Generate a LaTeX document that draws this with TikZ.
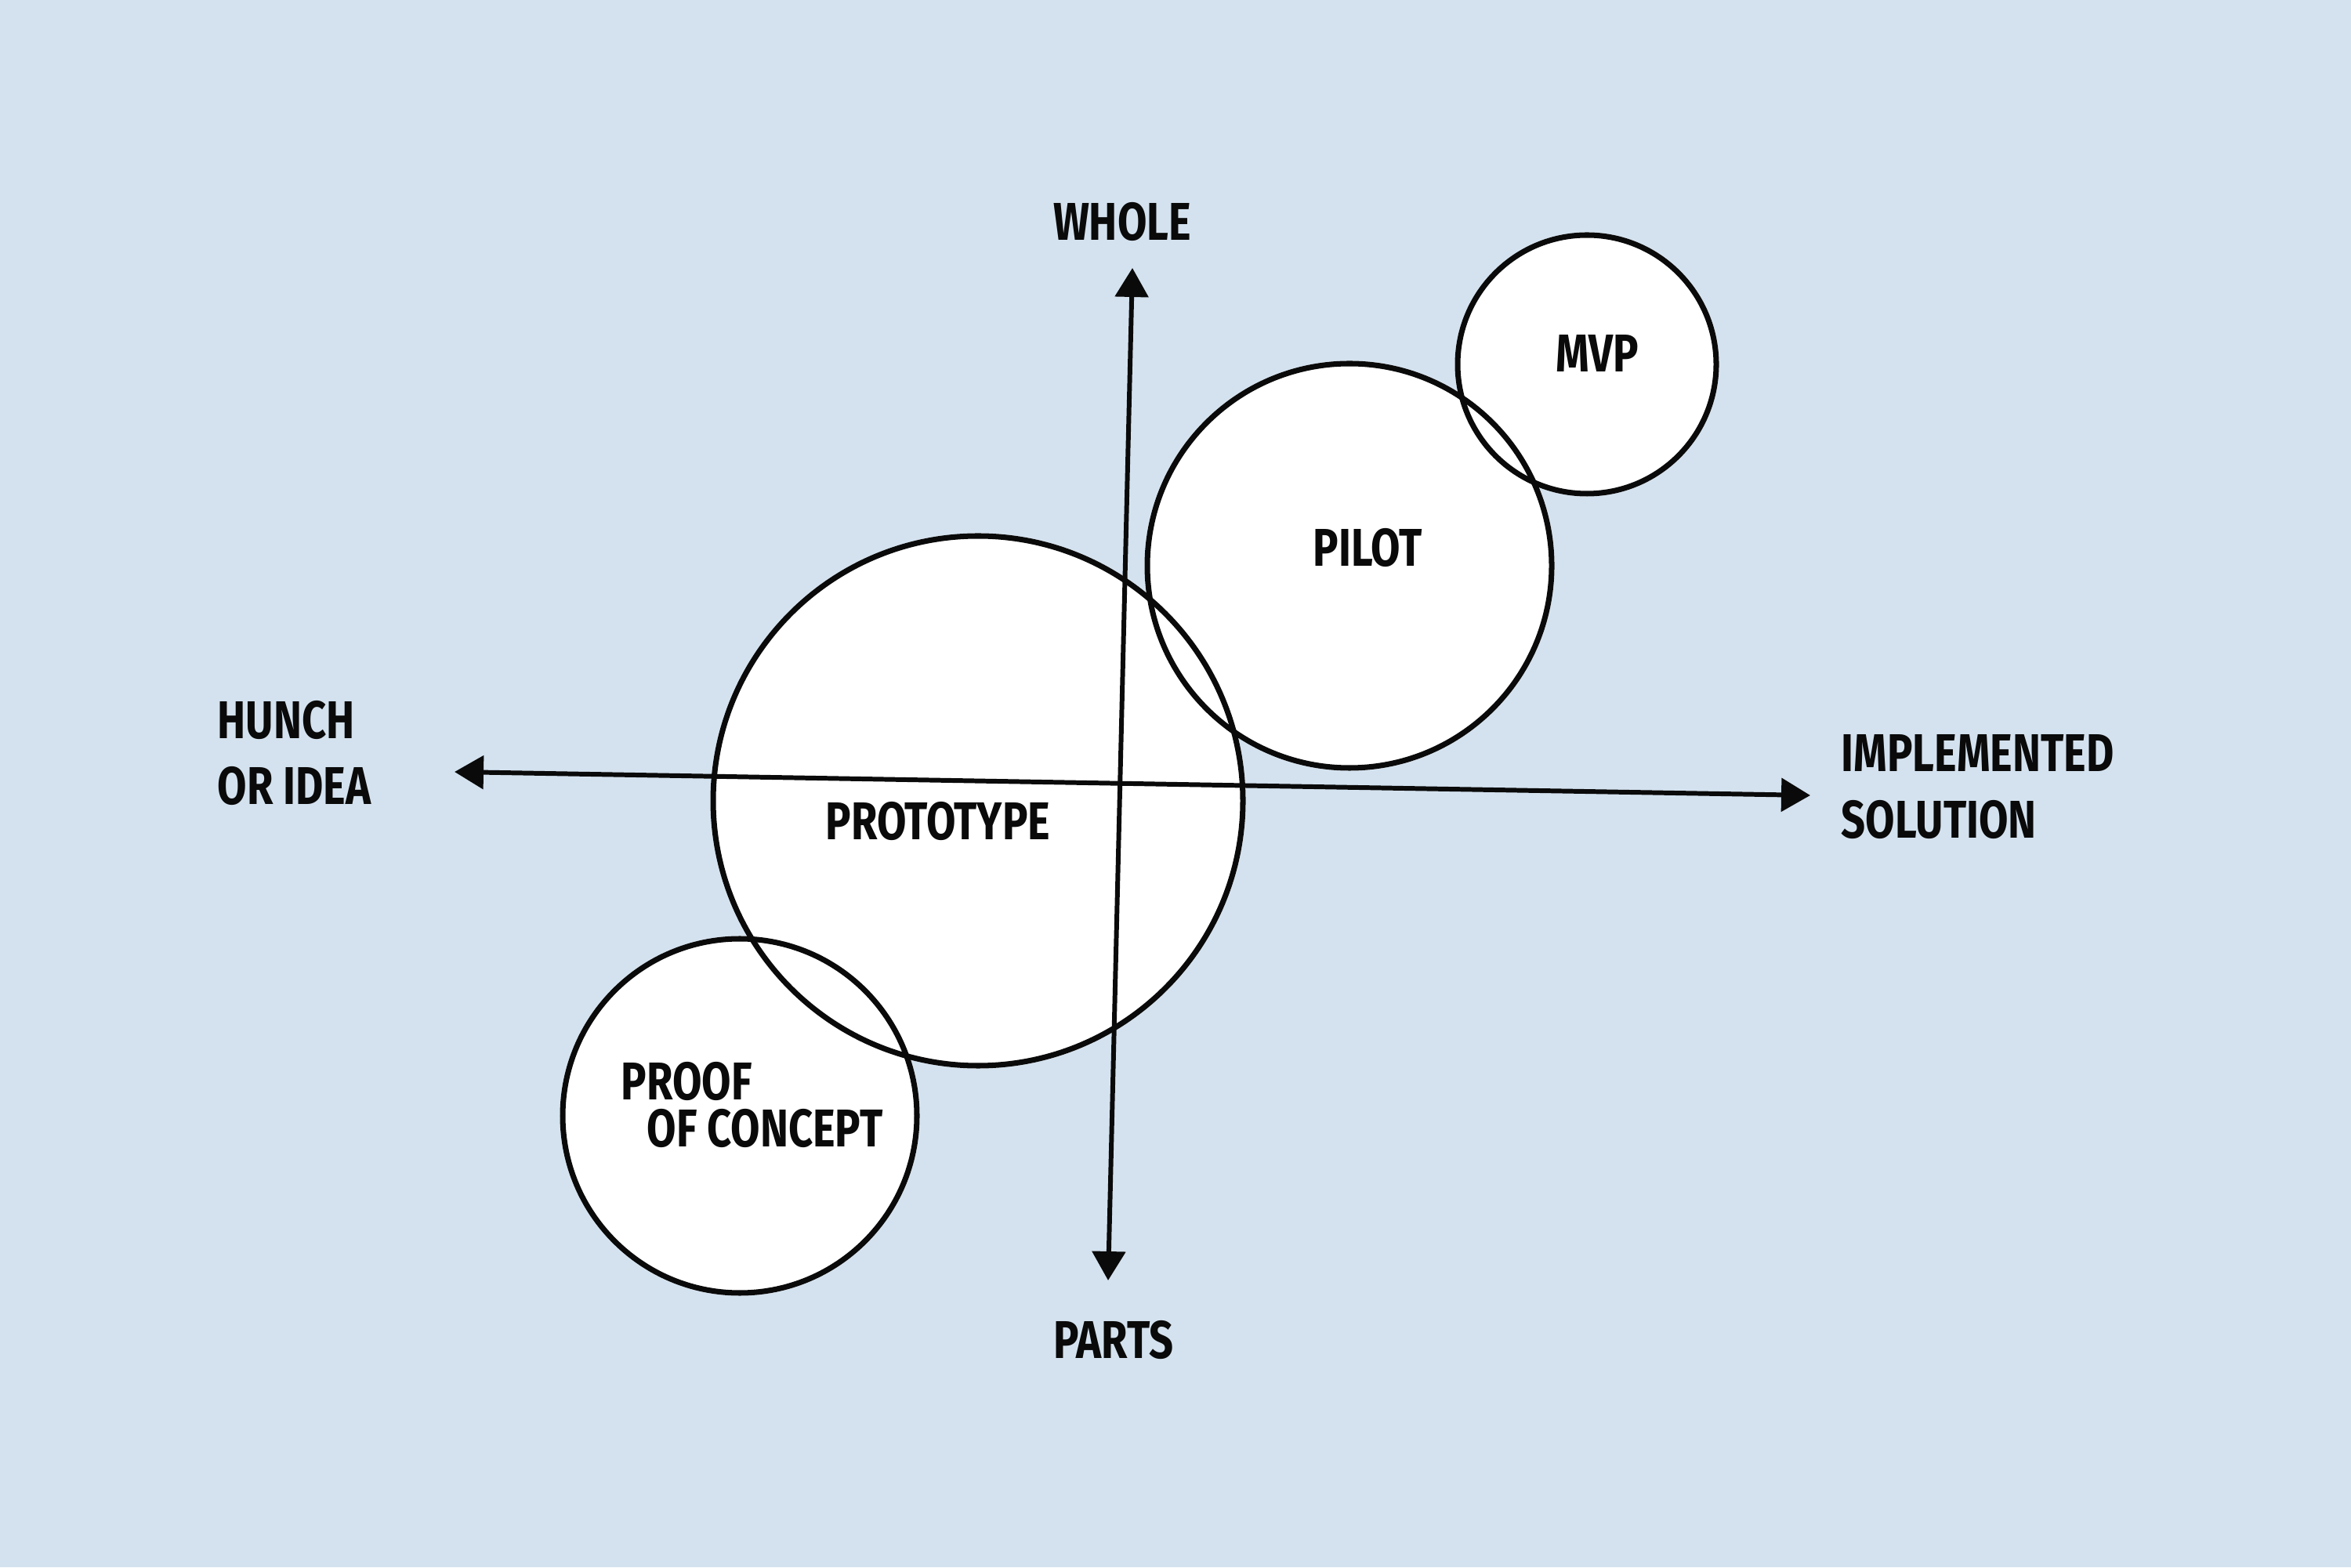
\documentclass[tikz,border=0pt]{standalone}
\usepackage{fontspec}
\setmainfont{Fira Sans}[FakeStretch=0.8]
\usepackage{tikz}
\usetikzlibrary{arrows.meta,backgrounds,calc}
\definecolor{paper}{HTML}{D4E2EF}
\definecolor{ink}{HTML}{0A0A0A}

\begin{document}
\begin{tikzpicture}[font=\bfseries\fontsize{19.3}{24}\selectfont,
  >={Triangle[length=3.7mm,width=4.2mm]},
  bubble/.style={circle, draw=ink, line width=2pt, inner sep=0pt},
  ax/.style={<->, line width=1.7pt, draw=ink},
  tag/.style={inner sep=0pt, text=ink, align=left}]
  \useasboundingbox (0,0) rectangle (30,20);
  % the four stages
  \node[bubble, minimum size=6.76cm] (proto) at (12.48,9.78) {};
  \node[bubble, minimum size=5.16cm] (pilot) at (17.22,12.78) {};
  \node[bubble, minimum size=3.30cm] (mvp)   at (20.25,15.35) {};
  \node[bubble, minimum size=4.52cm] (poc)   at (9.44,5.76) {};
  \begin{scope}[on background layer]
    \fill[paper] (0,0) rectangle (30,20);
    \foreach \s in {proto,pilot,mvp,poc}
      \fill[white] let \p1=($(\s.east)-(\s.center)$) in (\s.center) circle[radius=\x1];
  \end{scope}
  % axes
  \coordinate (idea-end)  at (5.80,10.15);
  \coordinate (sol-end)   at (23.10,9.85);
  \coordinate (whole-end) at (14.45,16.58);
  \coordinate (parts-end) at (14.14,3.66);
  \draw[ax] (idea-end) -- (sol-end);
  \draw[ax] (whole-end) -- (parts-end);
  % labels
  \node[tag] (whole) at (14.32,17.17) {WHOLE};
  \node[tag] (parts) at (14.21,2.90) {PARTS};
  \node[tag, anchor=west] (hunch) at (2.77,10.39) {HUNCH\\OR IDEA};
  \node[tag, anchor=west] (solution) at (23.49,9.96) {IMPLEMENTED\\SOLUTION};
  \node[tag] (mvplabel) at (20.38,15.49) {MVP};
  \node[tag] (pilotlabel) at (17.45,13.01) {PILOT};
  \node[tag] (protolabel) at (11.97,9.52) {PROTOTYPE};
  \node[tag, anchor=west, font=\bfseries\fontsize{19.3}{17.3}\selectfont] (poclabel)
    at (7.92,5.90) {PROOF\\\hspace*{3.3mm}OF CONCEPT};
\end{tikzpicture}
\end{document}
